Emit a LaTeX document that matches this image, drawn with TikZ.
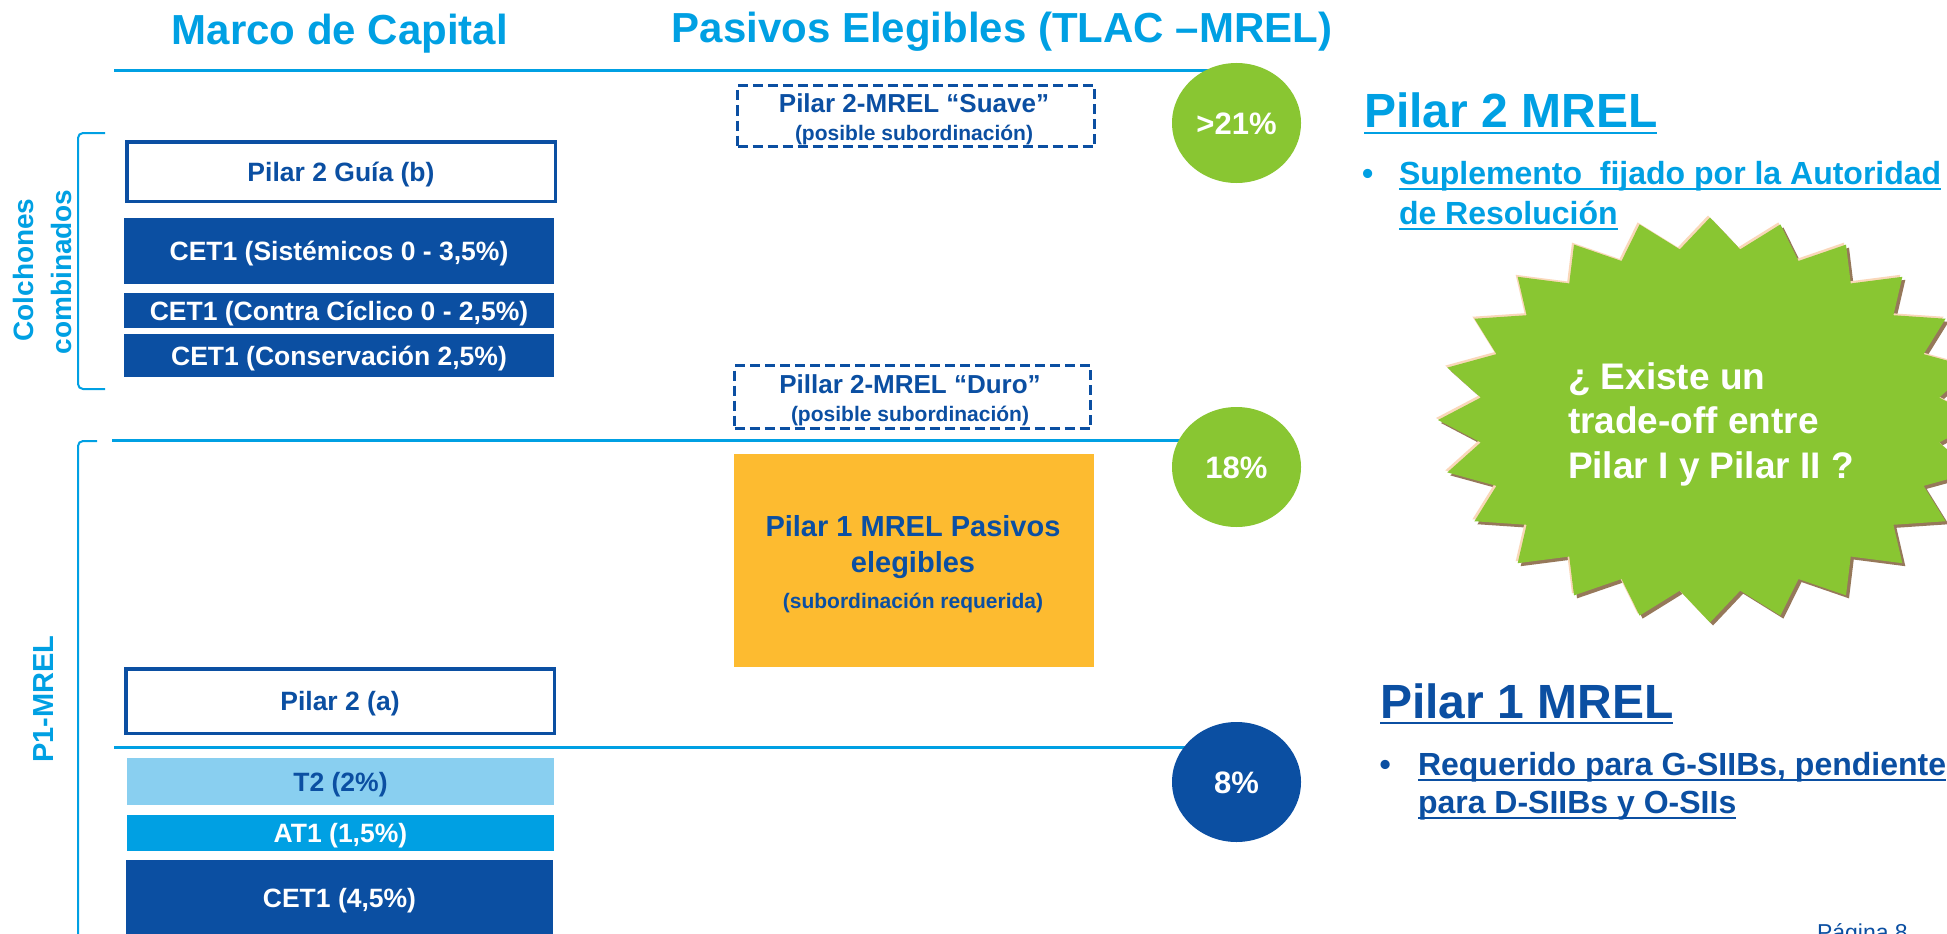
\documentclass[tikz,border=0pt]{standalone}
\usepackage{fontspec}
\setmainfont{Liberation Sans}
\usetikzlibrary{shapes.geometric}
\definecolor{cyanT}{RGB}{0,160,227}
\definecolor{navy}{RGB}{11,79,162}
\definecolor{lightb}{RGB}{137,207,240}
\definecolor{orangeb}{RGB}{253,187,48}
\definecolor{greenb}{RGB}{137,198,50}
\definecolor{peach}{RGB}{250,215,185}
\definecolor{brownsh}{RGB}{150,120,90}
\newcommand{\myfs}[1]{\fontsize{#1}{#1}\selectfont}
\tikzset{
  every node/.style={inner sep=0pt, outer sep=0pt},
  hline/.style={cyanT, line width=3pt},
  brack/.style={cyanT, line width=2pt, rounded corners=5pt},
  title/.style={anchor=base, text=cyanT, font=\bfseries\myfs{42}},
  side/.style={anchor=base, rotate=90, text=cyanT, font=\bfseries\myfs{28}},
  wbox/.style={draw=navy, fill=white, line width=3.5pt, text=navy,
    font=\bfseries\myfs{26.5}, text height=19pt, text depth=0pt},
  fbox/.style={fill=#1, text=white, font=\bfseries\myfs{26.5},
    text height=19pt, text depth=0pt},
  dbox/.style={draw=navy, line width=3pt, dash pattern=on 10pt off 5pt},
  midtxt/.style={anchor=base, text=navy, font=\bfseries\myfs{#1}},
  circ/.style={ellipse, fill=#1, minimum width=129pt, minimum height=120pt,
    text=white, font=\bfseries\myfs{31}, text height=22pt, text depth=0pt},
  startxt/.style={anchor=base west, text=white, font=\bfseries\myfs{37}},
  rtxt/.style={anchor=base west, text=#1, font=\bfseries\myfs{32}},
  rhead/.style={anchor=base west, text=#1, font=\bfseries\myfs{48}},
}
\begin{document}
\begin{tikzpicture}[x=1pt,y=-1pt]
\useasboundingbox (0,0) rectangle (1947,934);
\clip (0,0) rectangle (1947,934);
\fill[white] (0,0) rectangle (1947,934);

% titles
\node[title] (tmarco) at (340,45) {Marco de Capital};
\node[title] (tpasivos) at (1002,43) {Pasivos Elegibles (TLAC –MREL)};

% circle centres
\coordinate (k21) at (1236.5,123);
\coordinate (k18) at (1236.5,467);
\coordinate (k8) at (1236.5,782);

% horizontal lines
\coordinate (l1s) at (114,71);
\coordinate (l2s) at (112,440);
\coordinate (l3s) at (114,747);
\draw[hline] (l1s) -- (l1s -| k21);
\draw[hline] (l2s) -- (l2s -| k18);
\draw[hline] (l3s) -- (l3s -| k8);

% brackets
\coordinate (b1a) at (105,133);
\coordinate (b1b) at (105,389);
\draw[brack] (b1a) -- (78,133) -- (78,389) -- (b1b);
\coordinate (b2a) at (97,441);
\draw[brack] (b2a) -- (78,441) -- (78,950);
\node[side] (colch1) at (33,270) {Colchones};
\node[side] (colch2) at (71,272) {combinados};
\node[side, font=\bfseries\myfs{29}] (p1mrel) at (53,699) {P1-MREL};

% left column boxes
\node[wbox, minimum width=428.5pt, minimum height=59.5pt] (pg) at (341,171.5) {Pilar 2 Guía (b)};
\node[fbox=navy, minimum width=430pt, minimum height=66pt] (s1) at (339,251) {CET1 (Sistémicos 0 - 3,5\%)};
\node[fbox=navy, minimum width=430pt, minimum height=35pt] (s2) at (339,310.5) {CET1 (Contra Cíclico 0 - 2,5\%)};
\node[fbox=navy, minimum width=430pt, minimum height=43pt] (s3) at (339,355.5) {CET1 (Conservación 2,5\%)};
\node[wbox, minimum width=428.5pt, minimum height=64.5pt] (pa) at (340,701) {Pilar 2 (a)};
\node[fbox=lightb, text=navy, minimum width=427pt, minimum height=47pt] (t2) at (340.5,781.5) {T2 (2\%)};
\node[fbox=cyanT, minimum width=427pt, minimum height=36pt] (at1) at (340.5,833) {AT1 (1,5\%)};
\node[fbox=navy, minimum width=427pt, minimum height=76pt] (cet) at (339.5,898) {CET1 (4,5\%)};

% middle column
\node[dbox, minimum width=357pt, minimum height=61pt] (suave) at (916,116) {};
\node[midtxt=26] (suave1) at (914,113) {Pilar 2-MREL “Suave”};
\node[midtxt=21] (suave2) at (914,140) {(posible subordinación)};
\node[dbox, minimum width=356pt, minimum height=63pt] (duro) at (912.5,397) {};
\node[midtxt=26] (duro1) at (910,393) {Pillar 2-MREL “Duro”};
\node[midtxt=21] (duro2) at (910,421) {(posible subordinación)};
\node[fill=orangeb, minimum width=360pt, minimum height=213pt] (orb) at (914,560.5) {};
\node[midtxt=29] (orb1) at (913,536) {Pilar 1 MREL Pasivos};
\node[midtxt=29] (orb2) at (913,572) {elegibles};
\node[midtxt=21] (orb3) at (913,608) {(subordinación requerida)};

% circles
\node[circ=greenb] (c21) at (k21) {>21\%};
\node[circ=greenb] (c18) at (k18) {18\%};
\node[circ=navy] (c8) at (k8) {8\%};

% right side: Pilar 2 MREL
\node[rhead=cyanT] (h2) at (1364,128) {Pilar 2 MREL};
\draw[cyanT, line width=2.5pt] ([yshift=-5pt]h2.base west) -- ([yshift=-5pt]h2.base east);
\node[rtxt=cyanT] (bul2) at (1362,184) {•};
\node[rtxt=cyanT] (h2a) at (1399,184) {Suplemento\ \ fijado por la Autoridad};
\node[rtxt=cyanT] (h2b) at (1399,224) {de Resolución};
\draw[cyanT, line width=2pt] ([yshift=-4.5pt]h2a.base west) -- ([yshift=-4.5pt]h2a.base east);
\draw[cyanT, line width=2pt] ([yshift=-4.5pt]h2b.base west) -- ([yshift=-4.5pt]h2b.base east);

% starburst
\coordinate (stc) at (1710,420);
\foreach \dx/\dy/\col in {3/3/brownsh, -2/-2/peach, 0/0/greenb} {
  \fill[\col, shift={(\dx,\dy)}] (1710,217.5)
    \foreach \i [evaluate=\i as \r using {1-0.15*mod(\i,2)}] in {1,...,47} {
      -- ({1710+272*\r*cos(90+7.5*\i)},{420-202.5*\r*sin(90+7.5*\i)})
    } -- cycle;
}
\node[startxt] (st1) at (1568,389) {¿ Existe un};
\node[startxt] (st2) at (1568,433) {trade-off entre};
\node[startxt] (st3) at (1568,478) {Pilar I y Pilar II ?};

% right side: Pilar 1 MREL
\node[rhead=navy] (h1) at (1380,718) {Pilar 1 MREL};
\draw[navy, line width=2.5pt] ([yshift=-5pt]h1.base west) -- ([yshift=-5pt]h1.base east);
\node[rtxt=navy] (bul1) at (1379.5,775) {•};
\node[rtxt=navy] (h1a) at (1418,775) {Requerido para G-SIIBs, pendiente};
\node[rtxt=navy] (h1b) at (1418,813) {para D-SIIBs y O-SIIs};
\draw[navy, line width=2pt] ([yshift=-4.5pt]h1a.base west) -- ([yshift=-4.5pt]h1a.base east);
\draw[navy, line width=2pt] ([yshift=-4.5pt]h1b.base west) -- ([yshift=-4.5pt]h1b.base east);

% page number
\node[anchor=base west, text=navy, font=\mdseries\myfs{23}] (pagina) at (1817,940) {Página 8};
\end{tikzpicture}
\end{document}
